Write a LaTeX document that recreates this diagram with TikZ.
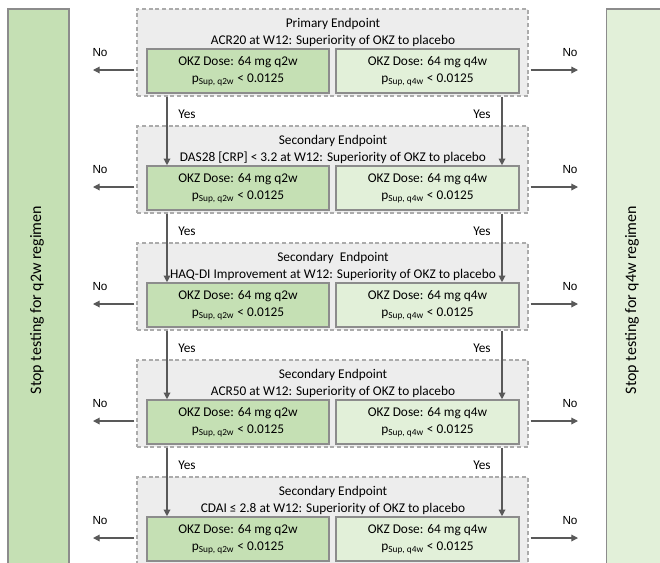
\documentclass[tikz,border=0pt]{standalone}
\usepackage{fontspec}
\setmainfont{Carlito}
\newfontfamily\arialf{Liberation Sans}
\usetikzlibrary{arrows.meta,calc}
\definecolor{gA}{HTML}{C5E0B4}
\definecolor{gB}{HTML}{E2F0D9}
\definecolor{grpfill}{HTML}{EDEDED}
\definecolor{grpline}{HTML}{ABABAB}
\definecolor{boxline}{HTML}{8C8C8C}
\definecolor{arrc}{HTML}{595959}
\tikzset{
  grp/.style={draw=grpline,fill=grpfill,dashed,dash pattern=on 3pt off 2pt,line width=0.9pt,minimum width=293.25pt,minimum height=65.25pt,inner sep=0pt},
  doseA/.style={draw=boxline,fill=gA,line width=1.2pt,minimum width=136.5pt,minimum height=33pt,inner sep=0pt,align=center,font=\fontsize{10}{12.75}\selectfont},
  doseB/.style={doseA,fill=gB,minimum width=137.25pt},
  ttl/.style={align=center,font=\fontsize{10}{12.75}\selectfont,inner sep=0pt},
  stopbox/.style={draw=boxline,line width=1.2pt,minimum width=45.75pt,minimum height=428.25pt,inner sep=0pt},
  vtext/.style={rotate=90,font=\fontsize{12}{14}\selectfont,inner sep=0pt},
  arr/.style={draw=arrc,line width=0.9pt,-{Triangle[length=5pt,width=5pt]}},
  nolbl/.style={font=\arialf\fontsize{8.8}{10}\selectfont,inner sep=0pt},
  yeslbl/.style={font=\fontsize{10}{12}\selectfont,inner sep=0pt}
}
\begin{document}
\begin{tikzpicture}[x=0.75pt,y=-0.75pt]
\useasboundingbox (0,0) rectangle (660,562);
\fill[white] (0,0) rectangle (660,562);
% side boxes
\node[stopbox,fill=gA] (L) at (38.5,294.5) {};
\node[vtext] (Lt) at (37,300) {Stop testing for q2w regimen};
\node[stopbox,fill=gB] (R) at (637,294.5) {};
\node[vtext] (Rt) at (632,300) {Stop testing for q4w regimen};
\coordinate (yl) at (167,0);
\coordinate (yr) at (502,0);
\foreach \i/\ta/\tb in {1/Primary Endpoint/ACR20 at W12: Superiority of OKZ to placebo,
  2/Secondary Endpoint/{DAS28 [CRP] < 3.2 at W12: Superiority of OKZ to placebo},
  3/{Secondary\ \ Endpoint}/HAQ-DI Improvement at W12: Superiority of OKZ to placebo,
  4/Secondary Endpoint/ACR50 at W12: Superiority of OKZ to placebo,
  5/Secondary Endpoint/CDAI ≤ 2.8 at W12: Superiority of OKZ to placebo}{
  \pgfmathsetmacro{\T}{9+117*(\i-1)}
  \node[grp] (g\i) at (332.5,\T+43.5) {};
  \node[ttl] (t\i) at (333,\T+23.5) {\ta\\\tb};
  \node[doseA] (a\i) at (238,\T+62) {OKZ Dose: 64 mg q2w\\p\textsubscript{Sup, q2w} < 0.0125};
  \node[doseB] (b\i) at (427.5,\T+62) {OKZ Dose: 64 mg q4w\\p\textsubscript{Sup, q4w} < 0.0125};
  \coordinate (nl\i) at (93,\T+61);
  \coordinate (nr\i) at (578,\T+61);
  \draw[arr] ($(g\i.west |- nl\i)+(-2,0)$) -- (nl\i);
  \draw[arr] ($(g\i.east |- nr\i)+(2,0)$) -- (nr\i);
  \node[nolbl] (nlt\i) at (100,\T+44) {No};
  \node[nolbl] (nrt\i) at (570,\T+44) {No};
}
\foreach \i/\j in {1/2,2/3,3/4,4/5}{
  \pgfmathsetmacro{\T}{9+117*(\i-1)}
  \draw[arr] (g\i.south -| yl) -- (a\j.north -| yl);
  \draw[arr] (g\i.south -| yr) -- (b\j.north -| yr);
  \node[yeslbl] (ylt\i) at (187,\T+105) {Yes};
  \node[yeslbl] (yrt\i) at (482,\T+105) {Yes};
}
\end{tikzpicture}
\end{document}
